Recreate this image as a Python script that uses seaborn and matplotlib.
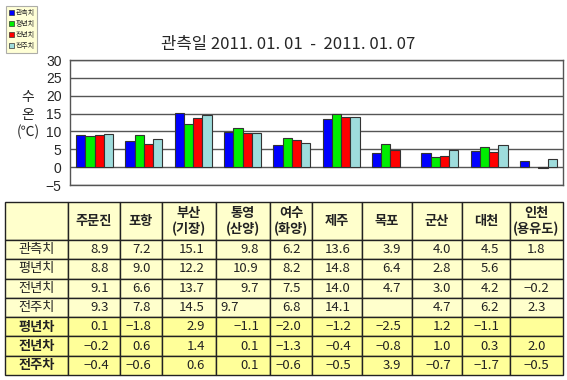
import numpy as np
import pandas as pd
import matplotlib
matplotlib.use("Agg")
import matplotlib.pyplot as plt
from matplotlib.patches import Patch
import seaborn as sns

# ── data ────────────────────────────────────────────────────────────────────
stations = ["주문진", "포항", "부산\n(기장)", "통영\n(산양)", "여수\n(화양)",
            "제주", "목포", "군산", "대천", "인천\n(용유도)"]
series_names = ["관측치", "평년치", "전년치", "전주치"]
obs = [8.9, 7.2, 15.1, 9.8, 6.2, 13.6, 3.9, 4.0, 4.5, 1.8]
normal = [8.8, 9.0, 12.2, 10.9, 8.2, 14.8, 6.4, 2.8, 5.6, np.nan]
last_year = [9.1, 6.6, 13.7, 9.7, 7.5, 14.0, 4.7, 3.0, 4.2, -0.2]
last_week = [9.3, 7.8, 14.5, 9.7, 6.8, 14.1, np.nan, 4.7, 6.2, 2.3]
diff_names = ["평년차", "전년차", "전주차"]
diff_normal = [0.1, -1.8, 2.9, -1.1, -2.0, -1.2, -2.5, 1.2, -1.1, np.nan]
diff_year = [-0.2, 0.6, 1.4, 0.1, -1.3, -0.4, -0.8, 1.0, 0.3, 2.0]
diff_week = [-0.4, -0.6, 0.6, 0.1, -0.6, -0.5, 3.9, -0.7, -1.7, -0.5]
y_ticks = [-5, 0, 5, 10, 15, 20, 25, 30]

COLORS = ["#0000FF", "#00EE00", "#FF0000", "#9EDCDC"]
UPPER_BG = "#FFFFCC"
LOWER_BG = "#FFFF99"

sns.set_style("white")
plt.rcParams["font.family"] = ["Noto Sans CJK KR", "DejaVu Sans"]

df = pd.DataFrame({"station": stations * 4,
                   "series": np.repeat(series_names, len(stations)),
                   "value": obs + normal + last_year + last_week})

fig = plt.figure(figsize=(5.67, 3.80), dpi=100)
W, H = 567, 380

# ── bar chart ───────────────────────────────────────────────────────────────
ax = fig.add_axes([70 / W, 1 - 185 / H, 493 / W, 125 / H])
sns.barplot(data=df, x="station", y="value", hue="series", order=stations,
            hue_order=series_names, palette=COLORS, errorbar=None, width=0.75,
            edgecolor="#333333", linewidth=0.8, saturation=1, ax=ax, zorder=3)
ax.set_ylim(-5, 30)
ax.set_xlim(-0.5, len(stations) - 0.5)
ax.set_yticks(y_ticks)
ax.set_yticklabels([str(t).replace("-", "−") for t in y_ticks],
                   fontsize=10, family=["Liberation Sans", "DejaVu Sans"])
ax.set_xticks([])
ax.set_xlabel("")
ax.set_ylabel("")
ax.tick_params(axis="y", length=0, pad=6)
ax.grid(axis="y", color="#555555", linewidth=1.0, zorder=0)
for s in ax.spines.values():
    s.set_color("#555555")
    s.set_linewidth(1.0)
ax.get_legend().remove()

fig.text(288 / W, 1 - 44 / H, "관측일 2011. 01. 01  -  2011. 01. 07",
         ha="center", va="center", fontsize=12)
fig.text(28 / W, 1 - 115 / H, "수\n온\n(℃)", ha="center", va="center",
         fontsize=10, linespacing=1.3)

# small legend in the top-left corner
handles = [Patch(facecolor=c, edgecolor="#333333", linewidth=0.5, label=n)
           for c, n in zip(COLORS, series_names)]
leg = fig.legend(handles=handles, loc="upper left",
                 bbox_to_anchor=(3 / W, 1 - 3 / H), fontsize=5,
                 handlelength=0.7, handleheight=0.7, handletextpad=0.3,
                 labelspacing=0.45, borderpad=0.35, frameon=True,
                 fancybox=False)
leg.get_frame().set_facecolor(UPPER_BG)
leg.get_frame().set_edgecolor("#999999")
leg.get_frame().set_linewidth(0.8)

# ── table ───────────────────────────────────────────────────────────────────
def fmt(v):
    return "" if np.isnan(v) else f"{v:.1f}".replace("-", "−")

rows = [obs, normal, last_year, last_week, diff_normal, diff_year, diff_week]
row_labels = series_names + diff_names
cell_text = [[""] + stations]
for lab, vals in zip(row_labels, rows):
    cell_text.append([lab] + [fmt(v) for v in vals])

col_px = [63, 52, 42, 54, 54, 42, 50, 50, 50, 48, 53]
row_px = [38] + [19.3] * 7

tax = fig.add_axes([5 / W, 1 - 375 / H, 558 / W, 173 / H])
tax.axis("off")
tbl = tax.table(cellText=cell_text, bbox=[0, 0, 1, 1], cellLoc="center")
tbl.auto_set_font_size(False)
for (r, c), cell in tbl.get_celld().items():
    cell.set_width(col_px[c])
    cell.set_height(row_px[r])
    cell.set_edgecolor("#222222")
    cell.set_linewidth(1.0)
    cell.set_facecolor(LOWER_BG if r >= 5 else UPPER_BG)
    txt = cell.get_text()
    txt.set_fontsize(9.5)
    txt.set_color("#222222")
    if r == 0:
        txt.set_fontweight("bold")
        txt.set_linespacing(1.1)
    elif c == 0:
        if r >= 5:
            txt.set_fontweight("bold")
    elif c == len(col_px) - 1:
        cell.set_text_props(ha="center")
    else:
        cell._loc = "right"
        cell.PAD = 11 / col_px[c]
        txt.set_ha("right")
# 통영 전주치 sits on the left in the original
odd = tbl[4, 4]
odd._loc = "left"
odd.PAD = 4 / col_px[4]
odd.get_text().set_ha("left")

fig.savefig("out.png", dpi=100)
